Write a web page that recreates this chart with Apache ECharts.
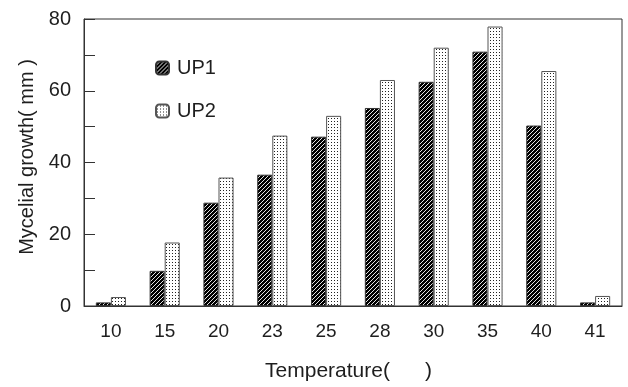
<!DOCTYPE html>
<html>
<head>
<meta charset="utf-8">
<script src="https://cdn.jsdelivr.net/npm/echarts@6/dist/echarts.min.js"></script>
<style>
  html, body { margin: 0; padding: 0; background: #fff; }
  #chart { width: 628px; height: 387px; }
</style>
</head>
<body>
<div id="chart"></div>
<script>
// Temperatures tested (°C) and mycelial growth per strain (mm)
const temperatures = ['10', '15', '20', '23', '25', '28', '30', '35', '40', '41'];
const up1Growth = [1.0, 9.8, 28.8, 36.6, 47.2, 55.2, 62.5, 70.9, 50.3, 1.0];
const up2Growth = [2.5, 17.7, 35.8, 47.5, 53.0, 63.0, 72.0, 77.9, 65.5, 2.8];
const seriesNames = ['UP1', 'UP2'];

// Fill textures: diagonal hatch and dot grid
function hatchTile() {
  const c = document.createElement('canvas');
  c.width = 4; c.height = 4;
  const g = c.getContext('2d');
  g.fillStyle = '#000';
  g.fillRect(0, 0, 4, 4);
  g.strokeStyle = '#fff';
  g.lineWidth = 0.9;
  g.beginPath();
  g.moveTo(-1, 5); g.lineTo(5, -1);
  g.moveTo(-1, 1); g.lineTo(1, -1);
  g.moveTo(3, 5); g.lineTo(5, 3);
  g.stroke();
  return c;
}
function dotTile() {
  const c = document.createElement('canvas');
  c.width = 3; c.height = 3;
  const g = c.getContext('2d');
  g.fillStyle = '#fff';
  g.fillRect(0, 0, 3, 3);
  g.fillStyle = '#222';
  g.fillRect(1, 1, 1, 1);
  return c;
}

const font = 'Liberation Sans';
const textColor = '#1e1e1e';

const chart = echarts.init(document.getElementById('chart'), null, { renderer: 'canvas' });
chart.setOption({
  animation: false,
  backgroundColor: '#fff',
  grid: {
    left: 84, right: 6, top: 19, bottom: 77,
    show: true, borderColor: '#333', borderWidth: 1, backgroundColor: 'transparent'
  },
  legend: {
    orient: 'vertical',
    left: 150, top: 53,
    itemWidth: 13, itemHeight: 13,
    itemGap: 23,
    data: seriesNames,
    textStyle: { fontFamily: font, fontSize: 20, lineHeight: 20, color: textColor, padding: [0, 0, 0, 3] }
  },
  xAxis: {
    type: 'category',
    data: temperatures,
    name: 'Temperature(      )',
    nameLocation: 'middle',
    nameGap: 55,
    nameTextStyle: { fontFamily: font, fontSize: 21, color: textColor, padding: [0, 9, 0, 0] },
    axisLine: { lineStyle: { color: '#333', width: 1 } },
    axisTick: { show: false },
    axisLabel: { fontFamily: font, fontSize: 19, color: textColor, margin: 16 }
  },
  yAxis: {
    type: 'value',
    min: 0, max: 80, interval: 10,
    name: 'Mycelial growth( mm )',
    nameLocation: 'middle',
    nameGap: 46,
    nameTextStyle: { fontFamily: font, fontSize: 20, color: textColor, padding: [0, 0, 0, 11] },
    axisLine: { show: true, lineStyle: { color: '#333', width: 1 } },
    axisTick: { show: true, inside: true, length: 11, lineStyle: { color: '#333' } },
    splitLine: { show: false },
    axisLabel: {
      fontFamily: font, fontSize: 20, color: textColor, margin: 13,
      formatter: v => (v % 20 === 0 ? String(v) : '')
    }
  },
  series: [
    {
      name: seriesNames[0],
      type: 'bar',
      data: up1Growth,
      barGap: '0%',
      barCategoryGap: '44%',
      itemStyle: {
        color: { image: hatchTile(), repeat: 'repeat' },
        borderColor: '#333', borderWidth: 1
      }
    },
    {
      name: seriesNames[1],
      type: 'bar',
      data: up2Growth,
      barGap: '0%',
      barCategoryGap: '44%',
      itemStyle: {
        color: { image: dotTile(), repeat: 'repeat' },
        borderColor: '#555', borderWidth: 1
      }
    }
  ]
});
</script>
</body>
</html>
